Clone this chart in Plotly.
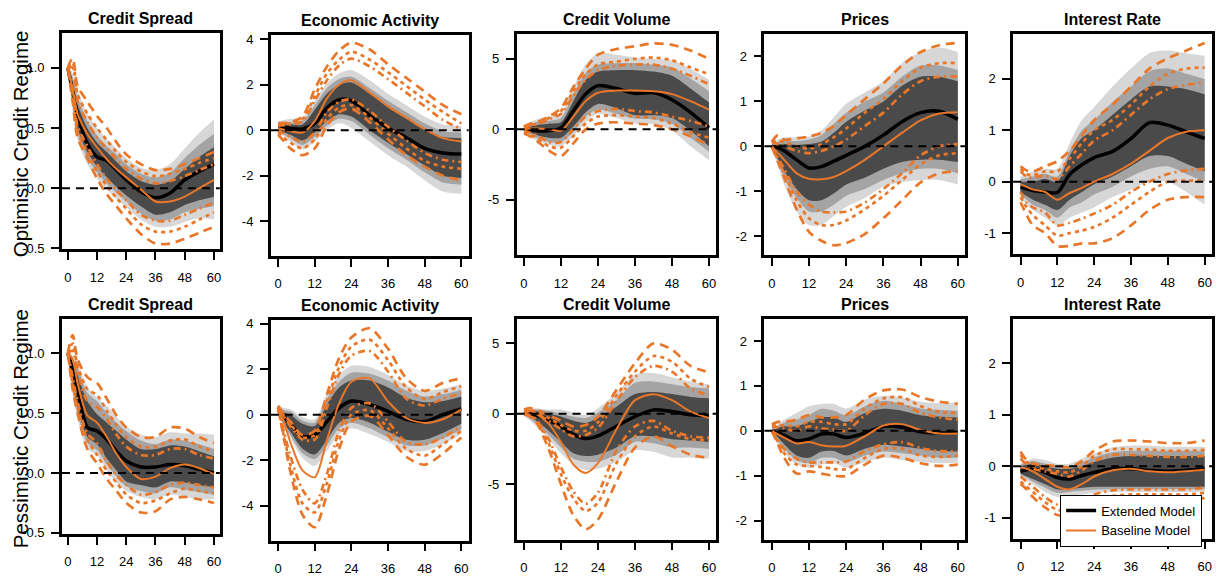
import plotly.graph_objects as go

W, H = 1222, 581

# Horizon (months) at which the impulse responses are sampled
MONTHS = [0, 2, 4, 8, 12, 16, 20, 24, 30, 36, 42, 48, 54, 60]

# Band lists are ordered outer -> middle -> inner
# Baseline-model interval lists are ordered outer (long dash) -> middle (dotted) -> inner (dash-dot)

# ---------------- Optimistic credit regime ----------------
opt_cs_ext = [1.00, 0.80, 0.61, 0.37, 0.26, 0.23, 0.15, 0.07, -0.03, -0.08, -0.04, 0.07, 0.14, 0.20]
opt_cs_ext_lo = [
    [0.98, 0.65, 0.40, 0.20, 0.08, -0.01, -0.09, -0.16, -0.26, -0.32, -0.32, -0.28, -0.25, -0.26],
    [0.99, 0.70, 0.45, 0.25, 0.13, 0.04, -0.04, -0.11, -0.21, -0.27, -0.26, -0.20, -0.17, -0.15],
    [1.00, 0.75, 0.50, 0.30, 0.18, 0.09, 0.01, -0.06, -0.15, -0.22, -0.20, -0.14, -0.10, -0.07]]
opt_cs_ext_hi = [
    [1.02, 0.95, 0.82, 0.62, 0.50, 0.41, 0.33, 0.25, 0.17, 0.15, 0.20, 0.33, 0.46, 0.57],
    [1.01, 0.92, 0.76, 0.56, 0.44, 0.35, 0.28, 0.20, 0.12, 0.09, 0.13, 0.25, 0.36, 0.45],
    [1.00, 0.88, 0.70, 0.50, 0.38, 0.30, 0.22, 0.14, 0.06, 0.03, 0.06, 0.16, 0.26, 0.34]]
opt_cs_base = [1.00, 0.82, 0.62, 0.45, 0.34, 0.24, 0.16, 0.09, -0.01, -0.11, -0.11, -0.07, 0.00, 0.07]
opt_cs_base_hi = [
    [1.00, 1.08, 0.85, 0.72, 0.60, 0.50, 0.38, 0.28, 0.20, 0.15, 0.16, 0.20, 0.25, 0.30],
    [1.00, 1.04, 0.78, 0.62, 0.50, 0.40, 0.30, 0.22, 0.14, 0.10, 0.12, 0.16, 0.21, 0.25],
    [1.00, 1.00, 0.72, 0.55, 0.42, 0.33, 0.24, 0.16, 0.08, 0.04, 0.06, 0.10, 0.15, 0.20]]
opt_cs_base_lo = [
    [1.00, 0.72, 0.42, 0.25, 0.08, -0.05, -0.15, -0.25, -0.38, -0.46, -0.46, -0.42, -0.37, -0.32],
    [1.00, 0.78, 0.47, 0.30, 0.14, 0.02, -0.08, -0.17, -0.30, -0.36, -0.36, -0.32, -0.26, -0.20],
    [1.00, 0.84, 0.52, 0.35, 0.20, 0.08, -0.02, -0.10, -0.22, -0.27, -0.27, -0.22, -0.17, -0.12]]

opt_ea_ext = [0.15, 0.12, 0.08, 0.05, 0.30, 0.97, 1.34, 1.30, 0.65, 0.10, -0.33, -0.80, -1.00, -1.05]
opt_ea_ext_lo = [
    [-0.10, -0.30, -0.50, -0.85, -0.50, 0.00, 0.30, 0.10, -0.50, -1.10, -1.60, -2.20, -2.70, -2.80],
    [0.00, -0.20, -0.35, -0.65, -0.30, 0.20, 0.50, 0.40, -0.20, -0.80, -1.30, -1.85, -2.30, -2.40],
    [0.05, -0.10, -0.20, -0.45, -0.10, 0.40, 0.70, 0.60, 0.00, -0.55, -1.05, -1.55, -2.00, -2.10]]
opt_ea_ext_hi = [
    [0.40, 0.45, 0.50, 0.55, 1.30, 2.05, 2.50, 2.65, 2.20, 1.60, 1.10, 0.60, 0.25, 0.20],
    [0.30, 0.35, 0.35, 0.40, 1.10, 1.85, 2.25, 2.35, 1.85, 1.30, 0.80, 0.30, -0.05, -0.10],
    [0.25, 0.25, 0.25, 0.25, 0.90, 1.60, 2.00, 2.10, 1.60, 1.00, 0.50, 0.00, -0.30, -0.35]]
opt_ea_base = [0.10, 0.02, -0.05, -0.10, 0.40, 1.40, 2.00, 2.20, 1.65, 1.05, 0.55, 0.05, -0.35, -0.50]
opt_ea_base_hi = [
    [0.30, 0.32, 0.35, 0.60, 1.80, 2.80, 3.50, 3.85, 3.55, 2.90, 2.30, 1.70, 1.10, 0.70],
    [0.25, 0.27, 0.30, 0.50, 1.50, 2.50, 3.10, 3.45, 3.10, 2.55, 1.95, 1.35, 0.80, 0.30],
    [0.20, 0.22, 0.25, 0.40, 1.30, 2.20, 2.85, 3.15, 2.80, 2.25, 1.65, 1.05, 0.45, 0.05]]
opt_ea_base_lo = [
    [-0.20, -0.50, -0.80, -1.10, -0.80, 0.20, 0.80, 0.95, 0.35, -0.40, -1.10, -1.60, -2.00, -2.20],
    [-0.10, -0.35, -0.55, -0.80, -0.40, 0.50, 1.00, 1.10, 0.55, -0.15, -0.80, -1.35, -1.60, -1.70],
    [0.00, -0.15, -0.30, -0.50, -0.10, 0.80, 1.25, 1.35, 0.85, 0.15, -0.45, -1.00, -1.30, -1.40]]

opt_cv_ext = [0.00, -0.05, -0.10, -0.10, 0.10, 1.30, 2.50, 3.10, 2.90, 2.55, 2.60, 2.10, 1.20, 0.10]
opt_cv_ext_lo = [
    [-0.20, -0.50, -0.80, -1.10, -1.20, -0.50, 0.50, 1.10, 0.80, 0.40, 0.35, -0.10, -1.20, -2.20],
    [-0.10, -0.35, -0.60, -0.90, -0.90, -0.20, 0.90, 1.40, 1.10, 0.75, 0.70, 0.40, -0.60, -1.60],
    [0.00, -0.20, -0.40, -0.60, -0.60, 0.20, 1.20, 1.80, 1.50, 1.00, 1.00, 0.80, -0.10, -1.20]]
opt_cv_ext_hi = [
    [0.30, 0.50, 0.70, 0.90, 1.10, 3.00, 4.60, 5.40, 5.30, 5.10, 5.00, 4.90, 4.30, 3.50],
    [0.20, 0.35, 0.50, 0.60, 0.80, 2.50, 4.00, 4.60, 4.70, 4.70, 4.60, 4.40, 3.60, 2.70],
    [0.10, 0.20, 0.30, 0.40, 0.50, 2.00, 3.50, 4.10, 4.20, 4.20, 4.10, 3.80, 2.90, 1.90]]
opt_cv_base = [0.00, 0.05, 0.05, 0.00, -0.10, 0.90, 2.00, 2.60, 2.75, 2.75, 2.70, 2.50, 2.00, 1.40]
opt_cv_base_hi = [
    [0.20, 0.40, 0.50, 0.90, 1.50, 3.00, 4.30, 5.30, 5.70, 5.90, 6.10, 6.00, 5.60, 5.00],
    [0.15, 0.30, 0.40, 0.80, 1.30, 2.70, 3.90, 4.60, 4.80, 5.00, 5.10, 4.90, 4.40, 3.90],
    [0.10, 0.25, 0.35, 0.70, 1.10, 2.40, 3.50, 4.20, 4.50, 4.60, 4.60, 4.30, 3.80, 3.20]]
opt_cv_base_lo = [
    [-0.30, -0.50, -0.80, -1.50, -1.90, -1.00, 0.00, 0.40, 0.50, 0.40, 0.30, 0.00, -0.50, -1.10],
    [-0.20, -0.40, -0.60, -1.20, -1.30, -0.50, 0.40, 0.90, 1.00, 0.90, 0.80, 0.40, -0.20, -0.60],
    [-0.10, -0.25, -0.40, -0.90, -0.90, 0.00, 0.90, 1.30, 1.45, 1.30, 1.20, 0.90, 0.60, 0.20]]

opt_pr_ext = [0.00, -0.03, -0.10, -0.30, -0.48, -0.45, -0.33, -0.20, 0.00, 0.25, 0.55, 0.75, 0.78, 0.60]
opt_pr_ext_lo = [
    [-0.05, -0.45, -0.85, -1.45, -1.75, -1.75, -1.55, -1.35, -1.15, -0.90, -0.80, -0.75, -0.75, -0.85],
    [-0.03, -0.35, -0.70, -1.15, -1.45, -1.45, -1.30, -1.10, -0.95, -0.75, -0.60, -0.50, -0.50, -0.60],
    [-0.02, -0.28, -0.55, -0.95, -1.20, -1.20, -1.05, -0.85, -0.70, -0.50, -0.35, -0.30, -0.30, -0.35]]
opt_pr_ext_hi = [
    [0.08, 0.15, 0.20, 0.20, 0.22, 0.35, 0.65, 0.95, 1.20, 1.45, 1.85, 2.10, 2.20, 2.10],
    [0.05, 0.10, 0.12, 0.12, 0.15, 0.25, 0.50, 0.75, 1.00, 1.20, 1.55, 1.80, 1.80, 1.70],
    [0.02, 0.04, 0.05, 0.03, 0.05, 0.10, 0.30, 0.55, 0.80, 1.00, 1.35, 1.55, 1.55, 1.45]]
opt_pr_base = [0.00, -0.15, -0.30, -0.60, -0.72, -0.73, -0.68, -0.55, -0.30, 0.00, 0.30, 0.58, 0.73, 0.76]
opt_pr_base_hi = [
    [0.10, 0.25, 0.15, 0.18, 0.22, 0.30, 0.45, 0.70, 1.05, 1.40, 1.80, 2.10, 2.25, 2.30],
    [0.10, 0.12, 0.10, 0.00, -0.05, 0.05, 0.20, 0.40, 0.75, 1.05, 1.45, 1.75, 1.85, 1.85],
    [0.10, 0.05, 0.00, -0.10, -0.15, -0.10, 0.00, 0.15, 0.45, 0.75, 1.15, 1.45, 1.55, 1.55]]
opt_pr_base_lo = [
    [0.00, -0.35, -0.70, -1.40, -1.90, -2.10, -2.20, -2.15, -1.95, -1.60, -1.20, -0.80, -0.60, -0.55],
    [0.00, -0.30, -0.60, -1.20, -1.60, -1.75, -1.75, -1.65, -1.40, -1.10, -0.75, -0.40, -0.20, -0.15],
    [0.00, -0.25, -0.50, -1.00, -1.30, -1.45, -1.47, -1.45, -1.25, -0.95, -0.60, -0.20, 0.00, 0.05]]

opt_ir_ext = [-0.10, -0.14, -0.17, -0.20, -0.21, 0.14, 0.33, 0.47, 0.59, 0.84, 1.15, 1.10, 0.97, 0.84]
opt_ir_ext_lo = [
    [-0.30, -0.45, -0.55, -0.70, -0.85, -0.70, -0.60, -0.50, -0.30, -0.15, 0.00, 0.00, -0.20, -0.45],
    [-0.25, -0.35, -0.45, -0.55, -0.70, -0.50, -0.40, -0.25, -0.10, 0.10, 0.25, 0.30, 0.15, 0.00],
    [-0.20, -0.28, -0.35, -0.45, -0.55, -0.35, -0.20, -0.05, 0.10, 0.30, 0.50, 0.50, 0.35, 0.20]]
opt_ir_ext_hi = [
    [0.10, 0.15, 0.20, 0.25, 0.25, 0.75, 1.20, 1.45, 1.85, 2.20, 2.50, 2.55, 2.50, 2.45],
    [0.05, 0.07, 0.10, 0.15, 0.10, 0.60, 1.00, 1.20, 1.55, 1.85, 2.15, 2.20, 2.10, 2.00],
    [0.00, 0.00, 0.00, 0.05, 0.00, 0.50, 0.85, 1.00, 1.30, 1.60, 1.85, 1.85, 1.80, 1.70]]
opt_ir_base = [-0.05, -0.10, -0.15, -0.20, -0.35, -0.22, -0.12, 0.00, 0.15, 0.35, 0.60, 0.85, 0.97, 1.00]
opt_ir_base_hi = [
    [0.30, 0.22, 0.20, 0.30, 0.40, 0.60, 0.90, 1.20, 1.50, 1.85, 2.20, 2.40, 2.55, 2.70],
    [0.25, 0.15, 0.12, 0.20, 0.20, 0.45, 0.75, 1.00, 1.20, 1.50, 1.85, 2.10, 2.20, 2.22],
    [0.20, 0.10, 0.08, 0.12, 0.05, 0.30, 0.55, 0.80, 1.00, 1.30, 1.60, 1.80, 1.88, 1.93]]
opt_ir_base_lo = [
    [-0.40, -0.65, -0.85, -1.00, -1.25, -1.25, -1.20, -1.20, -1.10, -0.85, -0.55, -0.35, -0.30, -0.30],
    [-0.30, -0.50, -0.65, -0.85, -1.05, -1.00, -0.95, -0.88, -0.70, -0.45, -0.20, 0.00, 0.02, 0.02],
    [-0.20, -0.40, -0.50, -0.60, -0.85, -0.80, -0.72, -0.62, -0.45, -0.20, 0.00, 0.15, 0.22, 0.25]]

# ---------------- Pessimistic credit regime ----------------
pes_cs_ext = [1.00, 0.85, 0.70, 0.38, 0.35, 0.28, 0.18, 0.10, 0.05, 0.05, 0.07, 0.06, 0.03, 0.00]
pes_cs_ext_lo = [
    [0.96, 0.65, 0.45, 0.20, 0.15, 0.02, -0.08, -0.15, -0.20, -0.22, -0.18, -0.20, -0.22, -0.22],
    [0.97, 0.70, 0.50, 0.25, 0.19, 0.07, -0.03, -0.11, -0.15, -0.17, -0.12, -0.14, -0.16, -0.18],
    [0.98, 0.75, 0.55, 0.30, 0.24, 0.12, 0.02, -0.07, -0.10, -0.12, -0.07, -0.08, -0.10, -0.12]]
pes_cs_ext_hi = [
    [1.04, 0.98, 0.92, 0.72, 0.63, 0.56, 0.47, 0.39, 0.32, 0.30, 0.34, 0.33, 0.33, 0.32],
    [1.03, 0.95, 0.88, 0.67, 0.60, 0.50, 0.42, 0.35, 0.27, 0.24, 0.28, 0.27, 0.24, 0.20],
    [1.02, 0.92, 0.82, 0.60, 0.49, 0.42, 0.35, 0.28, 0.20, 0.20, 0.23, 0.22, 0.18, 0.14]]
pes_cs_base = [1.00, 0.95, 0.75, 0.48, 0.42, 0.30, 0.16, 0.05, -0.05, -0.03, 0.04, 0.07, 0.04, -0.01]
pes_cs_base_hi = [
    [1.00, 1.15, 0.95, 0.80, 0.75, 0.62, 0.48, 0.38, 0.30, 0.30, 0.38, 0.37, 0.30, 0.25],
    [1.00, 1.08, 0.90, 0.70, 0.65, 0.52, 0.40, 0.30, 0.22, 0.22, 0.27, 0.28, 0.22, 0.18],
    [1.00, 1.02, 0.85, 0.60, 0.55, 0.45, 0.32, 0.22, 0.15, 0.15, 0.20, 0.20, 0.15, 0.12]]
pes_cs_base_lo = [
    [1.00, 0.70, 0.50, 0.20, 0.08, -0.05, -0.15, -0.25, -0.33, -0.32, -0.22, -0.20, -0.22, -0.25],
    [1.00, 0.75, 0.55, 0.28, 0.15, 0.02, -0.08, -0.18, -0.25, -0.23, -0.17, -0.13, -0.15, -0.17],
    [1.00, 0.80, 0.60, 0.33, 0.25, 0.10, -0.02, -0.10, -0.18, -0.16, -0.10, -0.08, -0.10, -0.12]]

pes_ea_ext = [0.20, -0.10, -0.40, -0.95, -0.90, -0.30, 0.30, 0.60, 0.45, 0.15, -0.20, -0.30, 0.00, 0.25]
pes_ea_ext_lo = [
    [0.10, -0.60, -1.05, -1.90, -2.25, -1.60, -0.85, -0.60, -0.85, -1.20, -1.60, -1.60, -1.30, -0.85],
    [0.15, -0.50, -0.90, -1.70, -1.95, -1.35, -0.60, -0.35, -0.60, -1.00, -1.35, -1.35, -1.05, -0.65],
    [0.20, -0.40, -0.75, -1.50, -1.75, -1.10, -0.35, -0.15, -0.35, -0.75, -1.10, -1.10, -0.80, -0.40]]
pes_ea_ext_hi = [
    [0.40, 0.30, 0.25, -0.10, -0.20, 0.95, 1.75, 2.15, 2.10, 1.75, 1.30, 1.05, 1.15, 1.35],
    [0.35, 0.20, 0.15, -0.25, -0.35, 0.70, 1.45, 1.85, 1.80, 1.50, 1.05, 0.80, 0.90, 1.10],
    [0.30, 0.10, 0.00, -0.40, -0.50, 0.45, 1.20, 1.50, 1.50, 1.20, 0.75, 0.55, 0.60, 0.80]]
pes_ea_base = [0.35, -0.35, -1.20, -2.45, -2.75, -1.10, 0.50, 1.45, 1.60, 0.58, -0.15, -0.36, -0.20, 0.22]
pes_ea_base_hi = [
    [0.40, 0.00, -0.30, -0.90, -0.70, 0.90, 2.50, 3.40, 3.80, 2.90, 1.60, 1.05, 1.40, 1.60],
    [0.35, -0.05, -0.40, -1.00, -0.90, 0.60, 2.10, 3.00, 3.30, 2.40, 1.20, 0.70, 1.00, 1.25],
    [0.30, -0.10, -0.50, -1.10, -1.10, 0.30, 1.80, 2.60, 2.80, 1.90, 0.70, 0.40, 0.70, 0.95]]
pes_ea_base_lo = [
    [0.30, -1.10, -2.50, -4.40, -4.95, -3.50, -1.50, -0.30, -0.05, -0.90, -1.85, -2.20, -1.70, -1.00],
    [0.30, -1.00, -2.20, -3.90, -4.30, -3.00, -1.10, 0.00, 0.20, -0.60, -1.50, -1.80, -1.30, -0.70],
    [0.30, -0.80, -1.80, -3.30, -3.90, -2.60, -0.70, 0.30, 0.50, -0.30, -1.20, -1.30, -1.00, -0.50]]

pes_cv_ext = [0.00, 0.05, -0.10, -0.45, -0.90, -1.46, -1.76, -1.57, -0.88, -0.19, 0.28, 0.16, -0.07, -0.14]
pes_cv_ext_lo = [
    [-0.20, -0.50, -0.90, -1.80, -2.80, -3.60, -4.00, -3.90, -3.40, -2.60, -2.70, -3.10, -3.10, -3.20],
    [-0.10, -0.35, -0.70, -1.50, -2.40, -3.20, -3.40, -3.40, -2.90, -2.00, -2.10, -2.40, -2.40, -2.50],
    [0.00, -0.20, -0.50, -1.20, -2.00, -2.80, -3.00, -2.90, -2.40, -1.60, -1.60, -1.80, -1.90, -2.00]]
pes_cv_ext_hi = [
    [0.30, 0.35, 0.40, 0.30, 0.30, 0.10, -0.07, 0.40, 1.50, 2.80, 2.90, 2.60, 2.30, 2.10],
    [0.20, 0.25, 0.30, 0.20, 0.00, -0.20, -0.30, 0.10, 1.00, 2.20, 2.30, 2.10, 1.90, 1.80],
    [0.10, 0.15, 0.20, 0.00, -0.20, -0.50, -0.65, -0.30, 0.50, 1.40, 1.55, 1.40, 1.20, 1.10]]
pes_cv_base = [0.00, 0.20, 0.00, -0.70, -2.00, -3.60, -4.20, -3.50, -1.10, 0.97, 1.39, 0.97, 0.16, -0.30]
pes_cv_base_hi = [
    [0.30, 0.40, 0.30, -0.10, -0.50, -0.90, -0.80, -0.20, 1.70, 3.60, 5.00, 4.55, 3.40, 2.95],
    [0.20, 0.30, 0.10, -0.30, -0.80, -1.20, -1.20, -0.60, 1.30, 3.00, 4.10, 3.70, 2.50, 1.90],
    [0.10, 0.20, 0.00, -0.50, -1.10, -1.60, -1.50, -1.00, 0.90, 2.60, 3.40, 3.00, 1.80, 1.30]]
pes_cv_base_lo = [
    [0.00, -0.20, -0.60, -2.50, -5.00, -7.20, -8.20, -7.50, -4.80, -2.40, -1.60, -2.30, -2.90, -3.15],
    [0.00, -0.15, -0.50, -2.10, -4.30, -6.00, -6.90, -6.30, -3.50, -1.60, -0.90, -1.40, -1.80, -1.90],
    [0.00, -0.10, -0.40, -1.80, -3.80, -5.50, -6.40, -5.60, -2.60, -0.90, -0.50, -1.20, -1.60, -1.70]]

pes_pr_ext = [0.00, -0.05, -0.10, -0.22, -0.18, -0.07, -0.07, -0.15, -0.05, 0.10, 0.08, -0.02, -0.05, -0.03]
pes_pr_ext_lo = [
    [-0.05, -0.30, -0.50, -0.75, -0.82, -0.75, -0.72, -0.82, -0.70, -0.60, -0.65, -0.70, -0.72, -0.71],
    [-0.03, -0.22, -0.40, -0.65, -0.72, -0.60, -0.60, -0.70, -0.55, -0.46, -0.50, -0.55, -0.60, -0.60],
    [-0.02, -0.15, -0.30, -0.55, -0.60, -0.46, -0.45, -0.55, -0.40, -0.31, -0.35, -0.40, -0.45, -0.46]]
pes_pr_ext_hi = [
    [0.06, 0.15, 0.25, 0.40, 0.55, 0.60, 0.60, 0.50, 0.70, 0.78, 0.75, 0.65, 0.62, 0.63],
    [0.04, 0.10, 0.18, 0.25, 0.35, 0.49, 0.45, 0.35, 0.55, 0.67, 0.60, 0.50, 0.47, 0.45],
    [0.02, 0.06, 0.10, 0.10, 0.20, 0.30, 0.30, 0.20, 0.40, 0.49, 0.45, 0.35, 0.32, 0.30]]
pes_pr_base = [0.00, -0.08, -0.15, -0.28, -0.25, -0.32, -0.35, -0.33, -0.12, 0.12, 0.15, 0.02, -0.06, -0.06]
pes_pr_base_hi = [
    [0.15, 0.20, 0.20, 0.25, 0.35, 0.30, 0.30, 0.35, 0.70, 0.90, 0.92, 0.75, 0.65, 0.60],
    [0.12, 0.13, 0.12, 0.10, 0.20, 0.20, 0.15, 0.15, 0.50, 0.72, 0.75, 0.55, 0.42, 0.40],
    [0.10, 0.08, 0.05, 0.00, 0.10, 0.05, 0.03, 0.00, 0.35, 0.60, 0.60, 0.40, 0.30, 0.25]]
pes_pr_base_lo = [
    [0.00, -0.30, -0.60, -0.95, -0.90, -0.95, -1.00, -1.00, -0.75, -0.55, -0.60, -0.72, -0.78, -0.75],
    [0.00, -0.25, -0.50, -0.75, -0.78, -0.80, -0.85, -0.85, -0.60, -0.40, -0.40, -0.55, -0.58, -0.55],
    [0.00, -0.20, -0.40, -0.62, -0.70, -0.70, -0.70, -0.68, -0.45, -0.30, -0.25, -0.38, -0.45, -0.45]]

pes_ir_ext = [-0.10, -0.07, -0.05, -0.12, -0.22, -0.25, -0.18, -0.12, -0.05, -0.05, -0.08, -0.10, -0.08, -0.05]
pes_ir_ext_lo = [
    [-0.20, -0.28, -0.35, -0.50, -0.60, -0.58, -0.55, -0.52, -0.50, -0.50, -0.50, -0.50, -0.50, -0.50],
    [-0.17, -0.23, -0.30, -0.42, -0.52, -0.50, -0.48, -0.46, -0.45, -0.45, -0.45, -0.45, -0.45, -0.45],
    [-0.14, -0.20, -0.25, -0.35, -0.45, -0.45, -0.42, -0.40, -0.40, -0.40, -0.40, -0.40, -0.40, -0.40]]
pes_ir_ext_hi = [
    [0.06, 0.10, 0.15, 0.12, 0.05, 0.05, 0.15, 0.24, 0.37, 0.40, 0.40, 0.38, 0.38, 0.38],
    [0.03, 0.07, 0.10, 0.05, 0.00, 0.00, 0.07, 0.17, 0.27, 0.30, 0.30, 0.30, 0.30, 0.30],
    [0.00, 0.03, 0.05, 0.00, -0.05, -0.05, 0.00, 0.08, 0.17, 0.20, 0.20, 0.20, 0.20, 0.20]]
pes_ir_base = [-0.02, -0.05, -0.10, -0.25, -0.40, -0.45, -0.35, -0.20, -0.08, -0.05, -0.10, -0.12, -0.10, -0.07]
pes_ir_base_hi = [
    [0.28, 0.12, 0.05, 0.02, 0.00, -0.02, 0.10, 0.30, 0.48, 0.50, 0.48, 0.45, 0.45, 0.50],
    [0.22, 0.08, 0.00, -0.05, -0.10, -0.12, 0.00, 0.20, 0.33, 0.33, 0.32, 0.30, 0.30, 0.32],
    [0.15, 0.03, -0.05, -0.10, -0.15, -0.20, -0.08, 0.10, 0.22, 0.22, 0.20, 0.18, 0.18, 0.20]]
pes_ir_base_lo = [
    [-0.35, -0.45, -0.60, -0.80, -0.95, -0.95, -0.85, -0.75, -0.68, -0.65, -0.65, -0.65, -0.65, -0.62],
    [-0.30, -0.40, -0.50, -0.70, -0.85, -0.85, -0.75, -0.65, -0.58, -0.55, -0.55, -0.55, -0.55, -0.52],
    [-0.20, -0.30, -0.40, -0.60, -0.75, -0.75, -0.65, -0.55, -0.47, -0.45, -0.45, -0.45, -0.45, -0.42]]

# Panel titles, y-axis ranges and tick labels per variable
VARIABLES = ["Credit Spread", "Economic Activity", "Credit Volume", "Prices", "Interest Rate"]
Y_RANGES = [[-0.507, 1.285], [-5.54, 4.17], [-8.94, 6.74], [-2.42, 2.49], [-1.41, 2.865]]
Y_TICKS = [[-0.5, 0.0, 0.5, 1.0], [-4, -2, 0, 2, 4], [-5, 0, 5], [-2, -1, 0, 1, 2], [-1, 0, 1, 2]]
Y_TICK_TEXT = [["-0.5", "0.0", "0.5", "1.0"], ["-4", "-2", "0", "2", "4"], ["-5", "0", "5"],
               ["-2", "-1", "0", "1", "2"], ["-1", "0", "1", "2"]]
X_TICKS = [0, 12, 24, 36, 48, 60]
REGIMES = ["Optimistic Credit Regime", "Pessimistic Credit Regime"]

PANEL_DATA = [
    (opt_cs_ext, opt_cs_ext_lo, opt_cs_ext_hi, opt_cs_base, opt_cs_base_lo, opt_cs_base_hi),
    (opt_ea_ext, opt_ea_ext_lo, opt_ea_ext_hi, opt_ea_base, opt_ea_base_lo, opt_ea_base_hi),
    (opt_cv_ext, opt_cv_ext_lo, opt_cv_ext_hi, opt_cv_base, opt_cv_base_lo, opt_cv_base_hi),
    (opt_pr_ext, opt_pr_ext_lo, opt_pr_ext_hi, opt_pr_base, opt_pr_base_lo, opt_pr_base_hi),
    (opt_ir_ext, opt_ir_ext_lo, opt_ir_ext_hi, opt_ir_base, opt_ir_base_lo, opt_ir_base_hi),
    (pes_cs_ext, pes_cs_ext_lo, pes_cs_ext_hi, pes_cs_base, pes_cs_base_lo, pes_cs_base_hi),
    (pes_ea_ext, pes_ea_ext_lo, pes_ea_ext_hi, pes_ea_base, pes_ea_base_lo, pes_ea_base_hi),
    (pes_cv_ext, pes_cv_ext_lo, pes_cv_ext_hi, pes_cv_base, pes_cv_base_lo, pes_cv_base_hi),
    (pes_pr_ext, pes_pr_ext_lo, pes_pr_ext_hi, pes_pr_base, pes_pr_base_lo, pes_pr_base_hi),
    (pes_ir_ext, pes_ir_ext_lo, pes_ir_ext_hi, pes_ir_base, pes_ir_base_lo, pes_ir_base_hi),
]

# Plot-area boxes in pixels: (left, top, right, bottom)
BOXES = [
    (62, 30, 220, 250), (271, 32, 469, 257), (517, 31, 717, 256), (765, 31, 966, 256), (1014, 31, 1213, 255),
    (62, 321, 220, 540), (271, 322, 469, 547), (517, 321, 717, 546), (765, 321, 966, 546), (1014, 321, 1213, 545),
]

FONT = "Liberation Sans, Arial, Helvetica, sans-serif"
BAND_COLORS = ["#D7D7D7", "#A4A4A4", "#4A4A4A"]
ORANGE = "#E8772A"
DASHES = ["9px,6px", "4px,4px", "7px,4px,2px,4px"]

fig = go.Figure()
shapes, annotations = [], []

for i, (ext, ext_lo, ext_hi, base, base_lo, base_hi) in enumerate(PANEL_DATA):
    n = i + 1
    xa = "x" if n == 1 else f"x{n}"
    ya = "y" if n == 1 else f"y{n}"
    col = i % 5
    last = (i == len(PANEL_DATA) - 1)

    # credible bands of the extended model
    for k in range(3):
        fig.add_trace(go.Scatter(x=MONTHS, y=ext_lo[k], mode="lines", xaxis=xa, yaxis=ya,
                                 line=dict(width=0, shape="spline", smoothing=0.8),
                                 showlegend=False, hoverinfo="skip"))
        fig.add_trace(go.Scatter(x=MONTHS, y=ext_hi[k], mode="lines", xaxis=xa, yaxis=ya,
                                 fill="tonexty", fillcolor=BAND_COLORS[k],
                                 line=dict(width=0, shape="spline", smoothing=0.8),
                                 showlegend=False, hoverinfo="skip"))

    # medians
    fig.add_trace(go.Scatter(x=MONTHS, y=ext, mode="lines", xaxis=xa, yaxis=ya,
                             name="Extended Model", legendgroup="ext", showlegend=last,
                             line=dict(color="black", width=3.5, shape="spline", smoothing=0.8)))
    fig.add_trace(go.Scatter(x=MONTHS, y=base, mode="lines", xaxis=xa, yaxis=ya,
                             name="Baseline Model", legendgroup="base", showlegend=last,
                             line=dict(color=ORANGE, width=2, shape="spline", smoothing=0.8)))

    # baseline model intervals
    for k in range(3):
        for bound in (base_lo[k], base_hi[k]):
            fig.add_trace(go.Scatter(x=MONTHS, y=bound, mode="lines", xaxis=xa, yaxis=ya,
                                     line=dict(color=ORANGE, width=2.7, dash=DASHES[k],
                                               shape="spline", smoothing=0.8),
                                     showlegend=False, hoverinfo="skip"))

    left, top, right, bottom = BOXES[i]
    axis_common = dict(showline=True, linecolor="black", linewidth=2.5, mirror=True,
                       ticks="outside", ticklen=8, tickwidth=2, tickcolor="black",
                       showgrid=False, zeroline=False,
                       tickfont=dict(family=FONT, size=13, color="black"))
    fig.layout[f"xaxis{'' if n == 1 else n}"] = dict(
        domain=[left / W, right / W], anchor=ya, range=[-2.4, 62.4],
        tickvals=X_TICKS, ticktext=[str(v) for v in X_TICKS], ticklabelstandoff=6, **axis_common)
    fig.layout[f"yaxis{'' if n == 1 else n}"] = dict(
        domain=[1 - bottom / H, 1 - top / H], anchor=xa, range=Y_RANGES[col],
        tickvals=Y_TICKS[col], ticktext=Y_TICK_TEXT[col], ticklabelstandoff=4, **axis_common)

    # dashed zero line across the plot area
    shapes.append(dict(type="line", xref=f"{xa} domain", yref=ya, x0=0, x1=1, y0=0, y1=0,
                       line=dict(color="black", width=2, dash="8px,6px"), layer="above"))

    # panel title
    annotations.append(dict(text=f"<b>{VARIABLES[col]}</b>", x=(left + right) / 2 / W,
                            y=1 - (top - 15) / H, xref="paper", yref="paper",
                            xanchor="center", yanchor="middle", showarrow=False,
                            font=dict(family=FONT, size=16, color="black")))

# regime labels on the left
for r, label in enumerate(REGIMES):
    top, bottom = BOXES[r * 5][1], BOXES[r * 5][3]
    annotations.append(dict(text=label, x=20 / W, y=1 - ((top + bottom) / 2 + 2) / H,
                            xref="paper", yref="paper", xanchor="center", yanchor="middle",
                            textangle=-90, showarrow=False,
                            font=dict(family=FONT, size=20.5, color="black")))

fig.update_layout(
    width=W, height=H, autosize=False,
    margin=dict(l=0, r=0, t=0, b=0),
    paper_bgcolor="white", plot_bgcolor="white",
    shapes=shapes, annotations=annotations,
    showlegend=True,
    legend=dict(x=1061 / W, y=1 - 500 / H, xanchor="left", yanchor="top",
                bgcolor="white", bordercolor="black", borderwidth=1,
                font=dict(family=FONT, size=13, color="black"),
                itemwidth=30, tracegroupgap=0, traceorder="normal",
                entrywidth=112, entrywidthmode="pixels"),
)

fig.write_html("out.html")
